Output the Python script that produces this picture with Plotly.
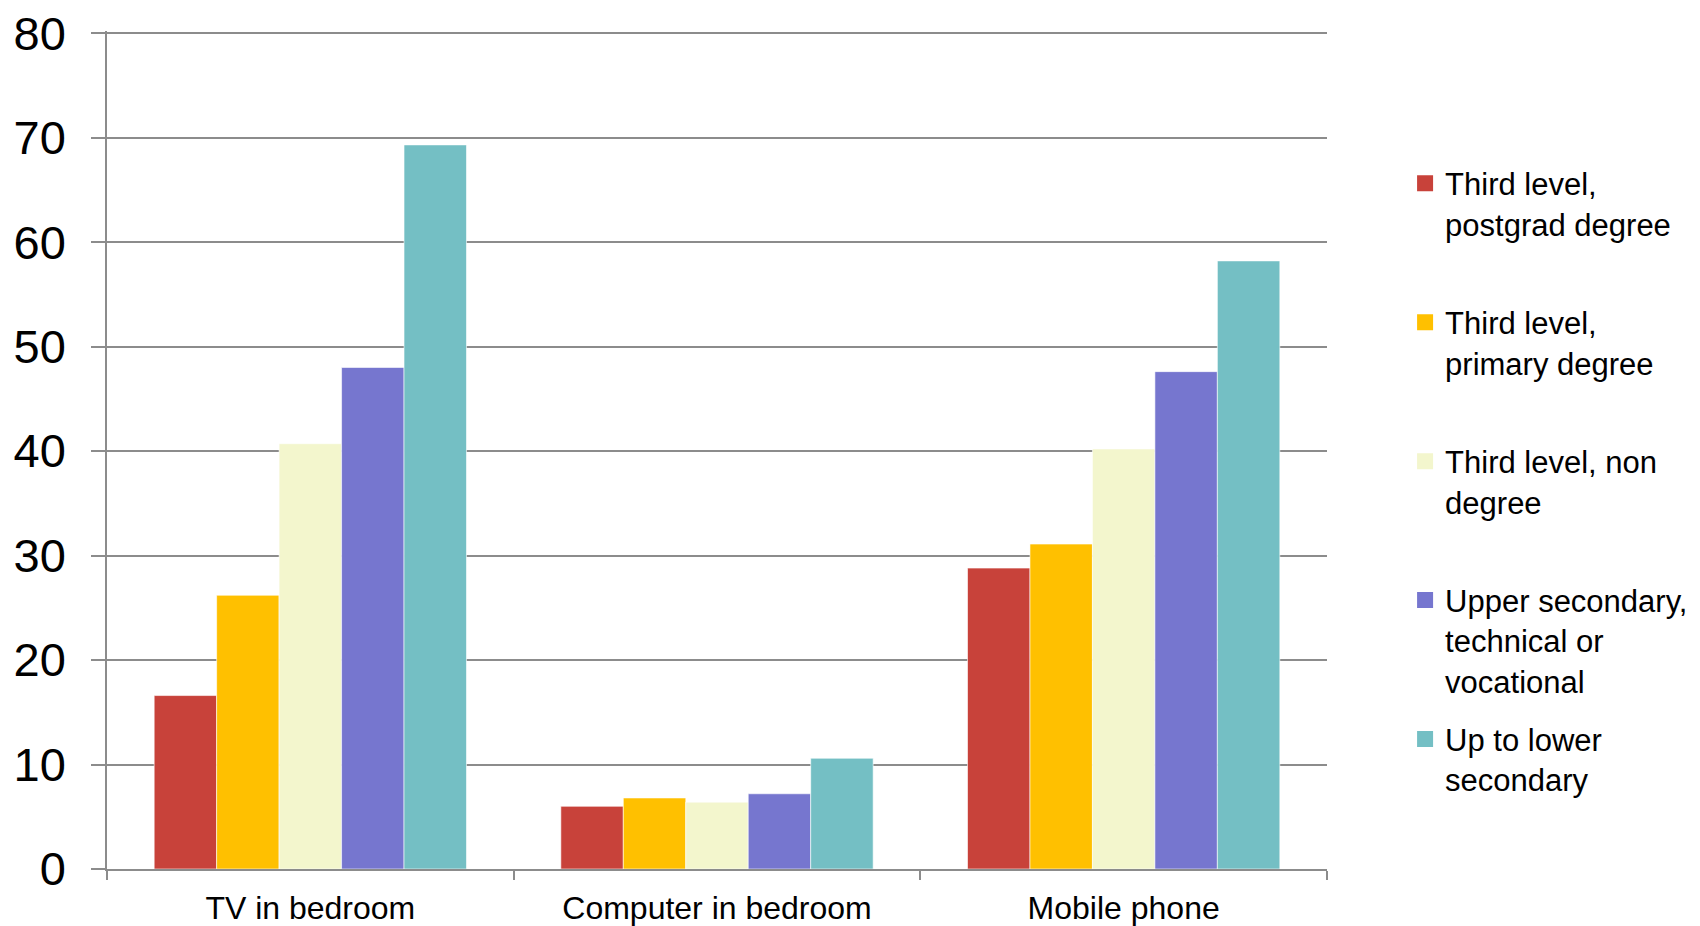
import plotly.graph_objects as go

categories = ["TV in bedroom", "Computer in bedroom", "Mobile phone"]
series_names = [
    "Third level,<br>postgrad degree<br>&nbsp;",
    "Third level,<br>primary degree<br>&nbsp;",
    "Third level, non<br>degree<br>&nbsp;",
    "Upper secondary,<br>technical or<br>vocational",
    "Up to lower<br>secondary<br>&nbsp;",
]
postgrad = [16.6, 6.0, 28.8]
primary_degree = [26.2, 6.8, 31.1]
non_degree = [40.7, 6.4, 40.2]
upper_secondary = [48.0, 7.2, 47.6]
lower_secondary = [69.3, 10.6, 58.2]
series_values = [postgrad, primary_degree, non_degree, upper_secondary, lower_secondary]
colors = ["#C8423A", "#FFC000", "#F3F6CD", "#7676CF", "#74BFC4"]
y_ticks = [0, 10, 20, 30, 40, 50, 60, 70, 80]

fig = go.Figure()
for i, (name, vals, col) in enumerate(zip(series_names, series_values, colors)):
    fig.add_trace(go.Bar(
        x=categories, y=vals, name=name, legendgroup=str(i), showlegend=False,
        marker=dict(color=col, line=dict(color="white", width=0.6)),
    ))
# legend entries with larger square swatches
for i, (name, col) in enumerate(zip(series_names, colors)):
    fig.add_trace(go.Scatter(
        x=[None], y=[None], mode="markers", name=name, legendgroup=str(i),
        marker=dict(symbol="square", size=16, color=col), showlegend=True,
    ))

grid_col = "#8C8C8C"
fig.update_layout(
    width=1700, height=926,
    paper_bgcolor="white", plot_bgcolor="white",
    margin=dict(l=107, r=373, t=31, b=57, autoexpand=False),
    barmode="group", bargap=0.232, bargroupgap=0,
    font=dict(family="Liberation Sans, Arial, sans-serif", color="black"),
    showlegend=True,
    legend=dict(
        x=1.064, xanchor="left", y=0.85, yanchor="top",
        font=dict(size=31, color="black"),
        traceorder="grouped", tracegroupgap=15, valign="top",
        bgcolor="rgba(0,0,0,0)",
    ),
    xaxis=dict(
        automargin=False,
        showline=True, linecolor=grid_col, linewidth=1.5,
        ticks="outside", tickson="boundaries", ticklen=9, tickcolor=grid_col, tickwidth=1.5,
        tickfont=dict(size=32, color="black"),
        ticklabelstandoff=10,
        showgrid=False,
    ),
    yaxis=dict(
        automargin=False,
        range=[0, 80.2], tickvals=y_ticks,
        showline=True, linecolor=grid_col, linewidth=1.5,
        showgrid=True, gridcolor=grid_col, gridwidth=1.5,
        ticks="outside", ticklen=14, tickcolor=grid_col, tickwidth=1.5,
        tickfont=dict(size=47, color="black"),
        ticklabelstandoff=16,
        zeroline=False,
    ),
)

fig.write_html("out.html")
